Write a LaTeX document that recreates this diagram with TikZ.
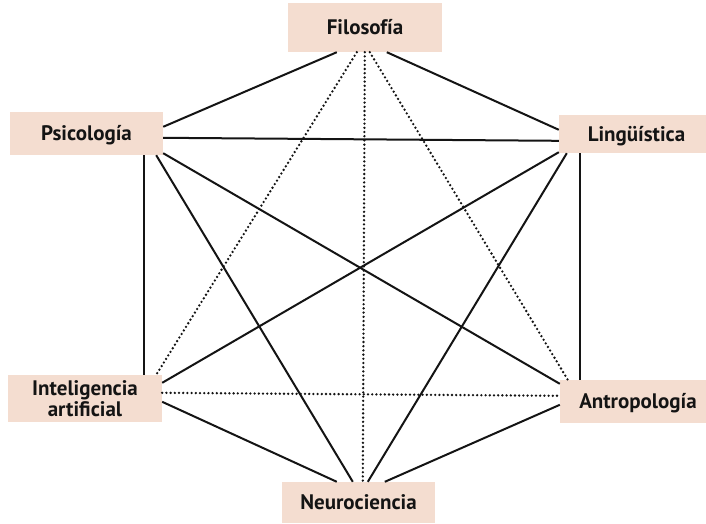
\documentclass[tikz,border=0pt]{standalone}
\usepackage{fontspec}
\setmainfont{PT Sans}
\usetikzlibrary{calc}
\definecolor{boxfill}{RGB}{244,221,208}
\definecolor{ink}{RGB}{20,20,20}
\tikzset{
  discbox/.style={fill=boxfill, draw=none, inner sep=0pt, text=ink,
    font=\bfseries\fontsize{21}{21}\selectfont, align=center},
  oneline/.style={text height=18pt, text depth=4pt},
  solidlink/.style={draw=ink, line width=2pt},
  dotlink/.style={draw=ink, line width=2.6pt, dash pattern=on 0pt off 4.2pt, line cap=round}
}
\begin{document}
\begin{tikzpicture}[x=1pt,y=-1pt]
\useasboundingbox (0,0) rectangle (706,523);
\fill[white] (0,0) rectangle (706,523);
% boxes
\node[discbox, oneline, minimum width=154pt, minimum height=49pt] (F) at (365,27.5) {Filosofía};
\node[discbox, oneline, minimum width=153pt, minimum height=43pt] (P) at (86.5,133.5) {Psicología};
\node[discbox, oneline, minimum width=147pt, minimum height=38pt] (L) at (632.5,134) {\kern8pt Lingüística};
\node[discbox, minimum width=154pt, minimum height=47pt] (IA) at (85,398.5) {Inteligencia\\artificial};
\node[discbox, oneline, minimum width=146pt, minimum height=43pt] (A) at (633,401.5) {\kern10pt Antropología};
\node[discbox, oneline, minimum width=153pt, minimum height=41pt] (N) at (358.5,502.5) {Neurociencia};
% solid connectors
\draw[solidlink] ($(F.south west)+(49,0)$) -- ($(P.north east)+(0,15)$);
\draw[solidlink] ($(F.south west)+(99,0)$) -- ($(L.north west)+(0,15)$);
\draw[solidlink] ($(P.north east)+(0,26)$) -- ($(L.north west)+(0,26)$);
\draw[solidlink] ($(P.south east)+(-19,0)$) -- ($(IA.north east)+(-18,0)$);
\draw[solidlink] ($(P.south east)+(0,-2)$) -- ($(A.north west)+(0,4)$);
\draw[solidlink] ($(P.south east)+(-7,0)$) -- ($(N.north west)+(71,0)$);
\draw[solidlink] ($(L.south west)+(0,-1)$) -- ($(IA.north east)+(0,8)$);
\draw[solidlink] ($(L.south west)+(8,0)$) -- ($(N.north west)+(86,0)$);
\draw[solidlink] ($(L.south west)+(21,0)$) -- ($(A.north west)+(20,0)$);
\draw[solidlink] ($(IA.north east)+(0,27)$) -- ($(N.north west)+(55,0)$);
\draw[solidlink] ($(A.north west)+(0,25)$) -- ($(N.north west)+(103,0)$);
% dotted connectors
\draw[dotlink] ($(F.south west)+(69,0)$) -- ($(IA.north east)+(-6,0)$);
\draw[dotlink] ($(F.south west)+(77,0)$) -- ($(N.north west)+(81,0)$);
\draw[dotlink] ($(F.south west)+(82,0)$) -- ($(A.north west)+(8,0)$);
\draw[dotlink] ($(IA.north east)+(0,18)$) -- ($(A.north west)+(0,16)$);
\end{tikzpicture}
\end{document}
